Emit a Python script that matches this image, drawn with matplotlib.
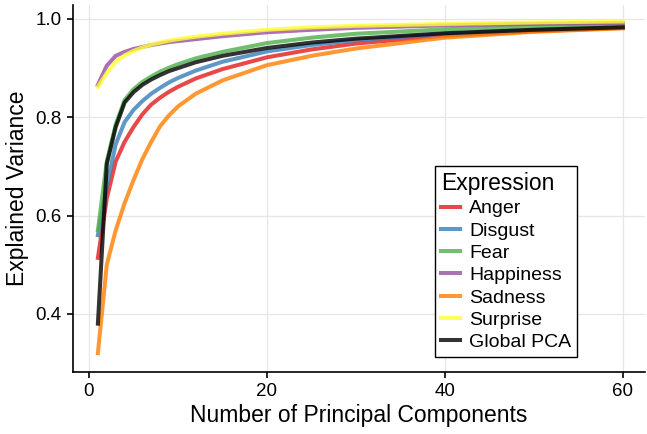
import matplotlib
matplotlib.use('Agg')
import matplotlib.pyplot as plt

plt.rcParams['font.family'] = ['Liberation Sans', 'DejaVu Sans']

# number of principal components where values were read
n_pc = [1, 2, 3, 4, 5, 6, 7, 8, 9, 10, 12, 15, 20, 25, 30, 40, 50, 60]

anger = [0.514, 0.635, 0.71, 0.75, 0.78, 0.806, 0.826, 0.84, 0.852, 0.862,
         0.879, 0.898, 0.922, 0.938, 0.95, 0.966, 0.975, 0.982]
disgust = [0.56, 0.66, 0.745, 0.79, 0.815, 0.833, 0.848, 0.86, 0.871, 0.88,
           0.895, 0.913, 0.934, 0.947, 0.957, 0.97, 0.978, 0.984]
fear = [0.57, 0.71, 0.785, 0.835, 0.857, 0.872, 0.883, 0.893, 0.901, 0.908,
        0.92, 0.933, 0.951, 0.962, 0.97, 0.979, 0.985, 0.989]
happiness = [0.866, 0.905, 0.925, 0.933, 0.939, 0.943, 0.947, 0.95, 0.953, 0.955,
             0.959, 0.965, 0.973, 0.978, 0.982, 0.987, 0.99, 0.992]
sadness = [0.32, 0.50, 0.57, 0.625, 0.672, 0.715, 0.75, 0.782, 0.804, 0.822,
           0.848, 0.875, 0.906, 0.925, 0.94, 0.962, 0.974, 0.981]
surprise = [0.862, 0.89, 0.913, 0.926, 0.935, 0.942, 0.948, 0.952, 0.956, 0.959,
            0.964, 0.97, 0.978, 0.983, 0.986, 0.99, 0.993, 0.995]
global_pca = [0.38, 0.705, 0.78, 0.83, 0.851, 0.866, 0.877, 0.886, 0.894, 0.90,
              0.912, 0.925, 0.941, 0.952, 0.96, 0.971, 0.978, 0.983]

series = [
    ('Anger', anger, '#e41a1c'),
    ('Disgust', disgust, '#377eb8'),
    ('Fear', fear, '#4daf4a'),
    ('Happiness', happiness, '#984ea3'),
    ('Sadness', sadness, '#ff7f00'),
    ('Surprise', surprise, '#ffff33'),
    ('Global PCA', global_pca, '#000000'),
]

fig = plt.figure(figsize=(6.47, 4.34), dpi=100)
ax = fig.add_axes([0.1128, 0.1429, 0.8842, 0.8456])

for name, vals, col in series:
    ax.plot(n_pc, vals, color=col, linewidth=2.9, alpha=0.8, label=name,
            solid_joinstyle='miter')

ax.set_xlim(-1.8, 62.5)
ax.set_ylim(0.2817, 1.0285)
ax.set_xticks([0, 20, 40, 60])
ax.set_yticks([0.4, 0.6, 0.8, 1.0])
ax.set_yticklabels(['0.4', '0.6', '0.8', '1.0'])
ax.grid(True, color='#e6e6e6', linewidth=0.9)
ax.set_axisbelow(True)
for s in ['top', 'right']:
    ax.spines[s].set_visible(False)
for s in ['left', 'bottom']:
    ax.spines[s].set_linewidth(1.2)
ax.tick_params(direction='out', length=4, width=1.2, labelsize=13.5, pad=4)

ax.set_xlabel('Number of Principal Components', fontsize=16.5, labelpad=3)
ax.set_ylabel('Explained Variance', fontsize=16.5, labelpad=5)

leg = ax.legend(title='Expression', loc='lower right', bbox_to_anchor=(0.881, 0.041),
                borderaxespad=0, fontsize=14, title_fontsize=16.5,
                fancybox=False, framealpha=1, edgecolor='black',
                handlelength=1.0, handletextpad=0.45, labelspacing=0.24,
                borderpad=0.3, alignment='left')
leg.get_frame().set_linewidth(1.0)
for h in leg.get_lines():
    h.set_linewidth(2.9)

fig.savefig('out.png', dpi=100)
